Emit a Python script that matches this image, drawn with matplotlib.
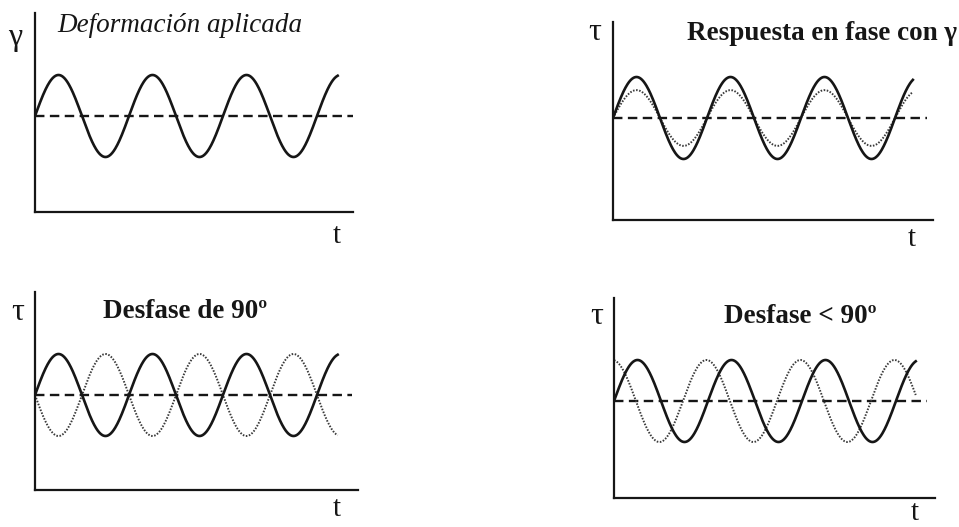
import numpy as np
import matplotlib
matplotlib.use("Agg")
import matplotlib.pyplot as plt

plt.rcParams['font.family'] = ['Liberation Serif', 'DejaVu Serif']

# panel texts
titles = ["Deformación aplicada", "Respuesta en fase con γ", "Desfase de 90º", "Desfase < 90º"]
title_styles = ["italic", "bold", "bold", "bold"]
y_labels = ["γ", "τ", "τ", "τ"]
x_label = "t"

# wave parameters (x in periods, y in units of the main amplitude)
cycles = [3.22, 3.19, 3.22, 3.21]
second_amp = [None, 0.68, 1.0, 1.0]
second_lead_deg = [None, 0.0, 180.0, 96.0]

# axes boxes in pixels: left, right, top, bottom
boxes = [(35, 353, 13, 212), (613, 933, 22, 220), (35, 358, 292, 490), (614, 935, 298, 498)]
centres = [116, 118, 395, 401]
period_px = 94.0
amp_px = 41.0
dash_end = [1.0, 0.98, 0.98, 0.975]
title_pos = [(57, 32), (687, 40), (103, 318), (724, 323)]
ylab_pos = [(15, 38), (595, 33), (18, 312), (597, 316)]
xlab_pos = [(337, 243), (912, 246), (337, 516), (915, 520)]

W, H = 959, 527
fig = plt.figure(figsize=(W / 100, H / 100), dpi=100)
ink = '#161616'

for i in range(4):
    l, r, t, b = boxes[i]
    ax = fig.add_axes([l / W, 1 - b / H, (r - l) / W, (b - t) / H])
    ax.set_xlim(0, (r - l) / period_px)
    ax.set_ylim(-(b - centres[i]) / amp_px, (centres[i] - t) / amp_px)
    for side in ['top', 'right']:
        ax.spines[side].set_visible(False)
    for side in ['left', 'bottom']:
        ax.spines[side].set_linewidth(1.6)
        ax.spines[side].set_color(ink)
    ax.set_xticks([])
    ax.set_yticks([])
    ax.patch.set_alpha(0)

    x = np.linspace(0, cycles[i], 600)
    ax.axhline(0, xmin=0, xmax=dash_end[i], color=ink, lw=1.7, dashes=(4, 2.3))
    if second_amp[i] is not None:
        ax.plot(x, second_amp[i] * np.sin(2 * np.pi * x + np.radians(second_lead_deg[i])),
                color='#3a3a3a', lw=1.4, linestyle=(0, (0.8, 0.8)))
    ax.plot(x, np.sin(2 * np.pi * x), color=ink, lw=1.9)

    fig.text(title_pos[i][0] / W, 1 - title_pos[i][1] / H, titles[i],
             fontsize=19.5, fontstyle='italic' if title_styles[i] == 'italic' else 'normal',
             fontweight='bold' if title_styles[i] == 'bold' else 'normal',
             ha='left', va='baseline', color=ink)
    fig.text(ylab_pos[i][0] / W, 1 - ylab_pos[i][1] / H, y_labels[i], fontsize=23,
             ha='center', va='center', color=ink)
    fig.text(xlab_pos[i][0] / W, 1 - xlab_pos[i][1] / H, x_label, fontsize=21,
             ha='center', va='baseline', color=ink)

fig.savefig("out.png", dpi=100)
